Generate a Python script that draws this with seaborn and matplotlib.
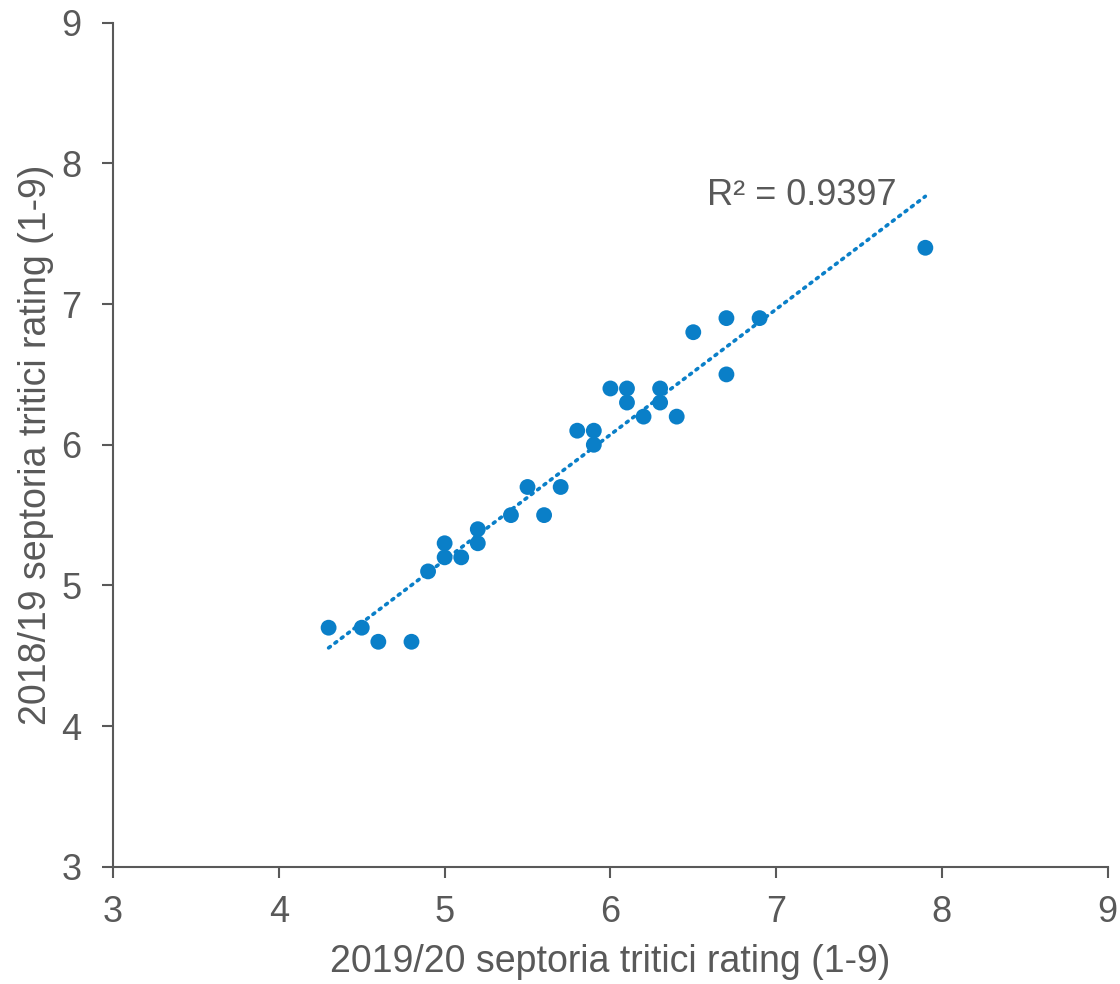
import numpy as np
import pandas as pd
import matplotlib
matplotlib.use("Agg")
import matplotlib.pyplot as plt
import seaborn as sns

# ratings
rating_2019_20 = [4.3, 4.5, 4.6, 4.8, 4.9, 5.0, 5.0, 5.1, 5.2, 5.2,
                  5.4, 5.5, 5.6, 5.7, 5.8, 5.9, 5.9, 6.0, 6.1, 6.1,
                  6.2, 6.3, 6.3, 6.4, 6.5, 6.7, 6.7, 6.9, 7.9]
rating_2018_19 = [4.7, 4.7, 4.6, 4.6, 5.1, 5.3, 5.2, 5.2, 5.4, 5.3,
                  5.5, 5.7, 5.5, 5.7, 6.1, 6.1, 6.0, 6.4, 6.4, 6.3,
                  6.2, 6.4, 6.3, 6.2, 6.8, 6.9, 6.5, 6.9, 7.4]
r2_label = "R² = 0.9397"
ticks = [3, 4, 5, 6, 7, 8, 9]

df = pd.DataFrame({"x": rating_2019_20, "y": rating_2018_19})

blue = "#0A7FC8"
grey = "#595959"

sns.set_style("white")
plt.rcParams["font.family"] = ["Liberation Sans", "DejaVu Sans"]

fig = plt.figure(figsize=(11.2, 9.84), dpi=100)
ax = fig.add_axes([0.101, 0.119, 0.888, 0.858])

# -----------------------------
# Scatter + linear trendline
# -----------------------------
sns.scatterplot(data=df, x="x", y="y", color=blue, s=130,
                edgecolor="none", ax=ax, zorder=3)

slope, intercept = np.polyfit(df["x"], df["y"], 1)
xs = np.array([df["x"].min(), df["x"].max()])
ax.plot(xs, slope * xs + intercept, color=blue, lw=2.6,
        linestyle=(0, (0.6, 1.6)), dash_capstyle="round", zorder=2)

ax.text(6.58, 7.77, r2_label, fontsize=26, color=grey,
        ha="left", va="center")

# -----------------------------
# Axes styling
# -----------------------------
ax.set_xlim(3, 9)
ax.set_ylim(3, 9)
ax.set_xticks(ticks)
ax.set_yticks(ticks)

ax.tick_params(axis="both", which="major", direction="out", length=8,
               width=1.5, color=grey, labelcolor=grey, labelsize=26,
               bottom=True, left=True)
ax.tick_params(axis="x", pad=12)
ax.tick_params(axis="y", pad=15)

ax.set_xlabel("2019/20 septoria tritici rating (1-9)", fontsize=27,
              color=grey, labelpad=10)
ax.set_ylabel("2018/19 septoria tritici rating (1-9)", fontsize=27,
              color=grey, labelpad=5)

for side in ["top", "right"]:
    ax.spines[side].set_visible(False)
for side in ["left", "bottom"]:
    ax.spines[side].set_color(grey)
    ax.spines[side].set_linewidth(1.5)

fig.savefig("out.png", dpi=100)
